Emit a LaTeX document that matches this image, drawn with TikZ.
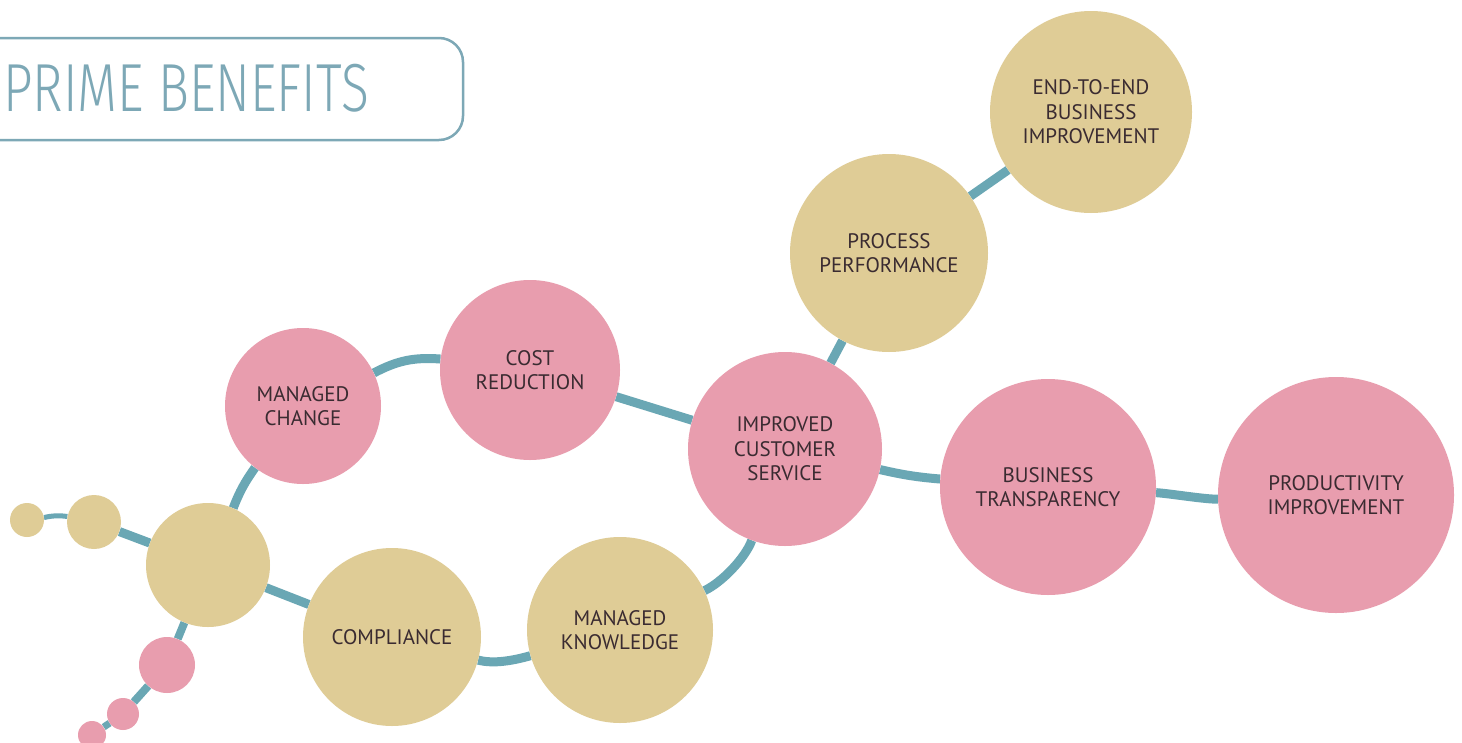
\documentclass[tikz,border=0pt]{standalone}
\usepackage{fontspec}
\setmainfont{PT Sans}
\newfontfamily\titlefont{Fira Sans}[UprightFont=* Light, FakeStretch=0.76]
\usetikzlibrary{backgrounds}
\definecolor{rose}{HTML}{E89DAE}
\definecolor{sand}{HTML}{DFCC96}
\definecolor{linkblue}{HTML}{6AA7B4}
\definecolor{titleblue}{HTML}{7DA8B6}
\definecolor{inkdark}{HTML}{3A2B31}
\tikzset{
    x=1pt, y=-1pt, % one unit per pixel, y pointing down
    bubble/.style={circle, inner sep=0pt, text=inkdark, align=center,
        font=\fontsize{21}{24.5}\selectfont}, % every benefit circle
    pink/.style={bubble, fill=rose, minimum size=#1},
    tan/.style={bubble, fill=sand, minimum size=#1},
    link/.style={draw=linkblue, line width=9pt}, % the teal stems
}

\begin{document}
\begin{tikzpicture}
    \useasboundingbox (0,0) rectangle (1462,742);

    % heading
    \draw[titleblue, line width=2.5pt, rounded corners=24pt] (-40,38) rectangle (463,140);
    \node[anchor=west, text=titleblue, inner sep=0pt] (title) at (3,88)
        {\titlefont\fontsize{68}{68}\selectfont PRIME BENEFITS};

    % benefits
    \node[tan=202pt] (endtoend) at (1091,112) {END-TO-END\\BUSINESS\\IMPROVEMENT};
    \node[tan=198pt] (process) at (889,253) {PROCESS\\PERFORMANCE};
    \node[pink=180pt] (cost) at (530,370) {COST\\REDUCTION};
    \node[pink=156pt] (change) at (303,406) {MANAGED\\CHANGE};
    \node[pink=194pt] (service) at (785,449) {IMPROVED\\CUSTOMER\\SERVICE};
    \node[pink=216pt] (transparency) at (1048,487) {BUSINESS\\TRANSPARENCY};
    \node[pink=236pt] (productivity) at (1336,495) {PRODUCTIVITY\\IMPROVEMENT};
    \node[tan=178pt] (compliance) at (392,637) {COMPLIANCE};
    \node[tan=186pt] (knowledge) at (620,630) {MANAGED\\KNOWLEDGE};

    % root and small buds
    \node[tan=124pt] (hub) at (208,565) {};
    \node[tan=34pt] (seedA) at (27,520) {};
    \node[tan=54pt] (seedB) at (94,522) {};
    \node[pink=56pt] (budA) at (167,665) {};
    \node[pink=32pt] (budB) at (123,714) {};
    \node[pink=28pt] (budC) at (92,735) {};

    \begin{scope}[on background layer]
        \fill[white] (0,0) rectangle (1462,742);
        \path[link]
            (seedA) edge[line width=5pt, bend left=10] (seedB)
            (seedB) edge (hub)
            (hub)
                edge[bend left=7] (change)
                edge (compliance)
                edge[line width=8pt] (budA)
            (change) edge[bend left=16] (cost)
            (cost) edge (service)
            (service)
                edge (process)
                edge[bend right=4] (transparency)
                edge[out=250, in=25, looseness=0.7] (knowledge)
            (process) edge (endtoend)
            (transparency) edge[out=-3, in=182, looseness=0.5] (productivity)
            (knowledge) edge[out=196, in=345, looseness=0.8] (compliance)
            (budA) edge[line width=8pt] (budB)
            (budB) edge[line width=7pt] (budC);
    \end{scope}
\end{tikzpicture}
\end{document}
